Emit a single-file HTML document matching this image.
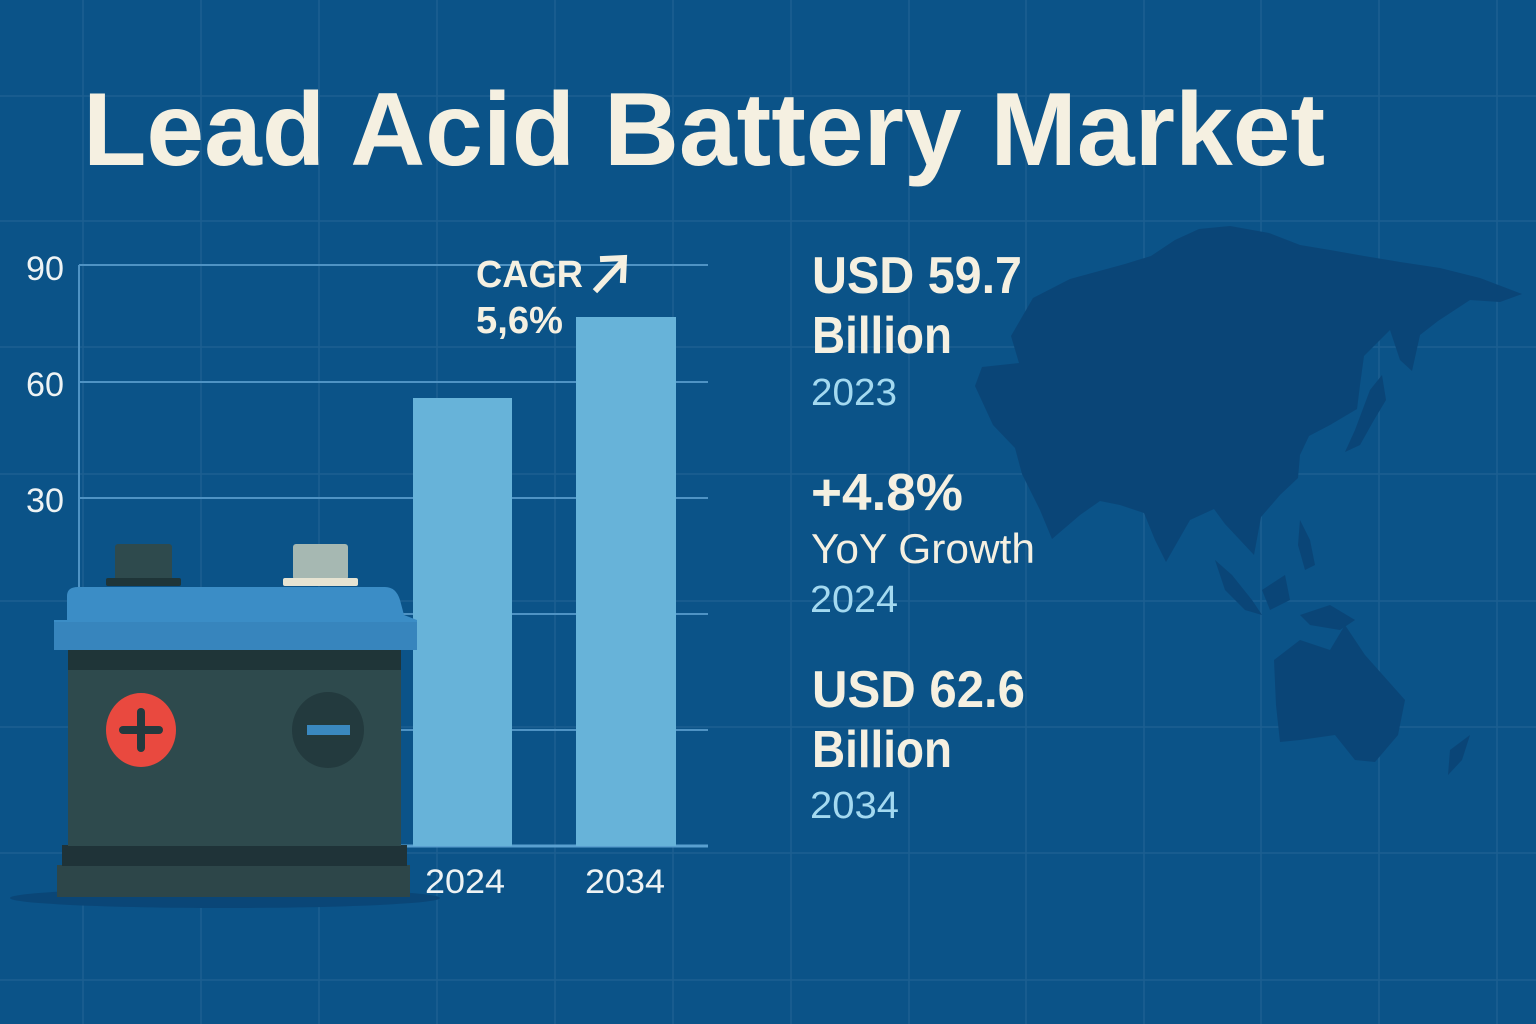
<!DOCTYPE html>
<html><head><meta charset="utf-8"><style>
html,body{margin:0;padding:0;background:#0b5388;}
svg{display:block;}
</style></head><body>
<svg width="1536" height="1024" viewBox="0 0 1536 1024" xmlns="http://www.w3.org/2000/svg">
<rect width="1536" height="1024" fill="#0b5388"/>
<g stroke="#2a6a9a" stroke-width="1.5" opacity="0.55">
<line x1="0" y1="96" x2="1536" y2="96"/><line x1="0" y1="221" x2="1536" y2="221"/>
<line x1="0" y1="347" x2="1536" y2="347"/><line x1="0" y1="474" x2="1536" y2="474"/>
<line x1="0" y1="601" x2="1536" y2="601"/><line x1="0" y1="727" x2="1536" y2="727"/>
<line x1="0" y1="853" x2="1536" y2="853"/><line x1="0" y1="980" x2="1536" y2="980"/>
<line x1="83" y1="0" x2="83" y2="1024"/><line x1="201" y1="0" x2="201" y2="1024"/>
<line x1="319" y1="0" x2="319" y2="1024"/><line x1="437" y1="0" x2="437" y2="1024"/>
<line x1="555" y1="0" x2="555" y2="1024"/><line x1="673" y1="0" x2="673" y2="1024"/>
<line x1="791" y1="0" x2="791" y2="1024"/><line x1="909" y1="0" x2="909" y2="1024"/>
<line x1="1026" y1="0" x2="1026" y2="1024"/><line x1="1144" y1="0" x2="1144" y2="1024"/>
<line x1="1261" y1="0" x2="1261" y2="1024"/><line x1="1379" y1="0" x2="1379" y2="1024"/>
<line x1="1497" y1="0" x2="1497" y2="1024"/>
</g>
<!-- map -->
<g fill="#0a4577">
<path d="M1011,336 L1033,298 L1070,279 L1125,264 L1151,256 L1175,240 L1199,229 L1230,226 L1269,233 L1300,245 L1330,250 L1364,256 L1400,262 L1440,268 L1480,278 L1522,294 L1500,302 L1470,300 L1438,321 L1420,335 L1412,371 L1400,360 L1390,330 L1364,356 L1360,385 L1357,409 L1330,425 L1309,436 L1300,455 L1298,478 L1280,495 L1261,517 L1254,555 L1240,540 L1225,524 L1214,509 L1190,520 L1166,562 L1155,540 L1144,513 L1120,505 L1100,501 L1080,515 L1052,539 L1040,510 L1022,474 L1015,448 L993,425 L975,386 L982,367 L1019,363 Z"/>
<path d="M1370,390 L1382,375 L1386,400 L1374,420 L1360,445 L1345,452 L1355,430 Z"/>
<path d="M1215,560 L1232,575 L1252,600 L1262,615 L1245,610 L1225,590 Z"/>
<path d="M1262,590 L1285,575 L1290,600 L1270,610 Z"/>
<path d="M1300,615 L1330,605 L1355,620 L1340,630 L1310,625 Z"/>
<path d="M1300,520 L1310,540 L1315,565 L1305,570 L1298,545 Z"/>
<path d="M1274,660 L1300,640 L1330,650 L1345,625 L1365,655 L1405,700 L1398,735 L1375,762 L1355,760 L1335,735 L1300,740 L1280,742 L1276,705 Z"/>
<path d="M1450,750 L1470,735 L1462,760 L1448,775 Z"/>
</g>
<!-- title -->
<text x="83" y="165" font-family="Liberation Sans, sans-serif" font-weight="bold" font-size="104" fill="#f5f0e1" textLength="1242" lengthAdjust="spacingAndGlyphs">Lead Acid Battery Market</text>
<!-- axes -->
<g stroke="#4f93c4" stroke-width="2">
<line x1="79" y1="265" x2="708" y2="265"/>
<line x1="79" y1="382" x2="708" y2="382"/>
<line x1="79" y1="498" x2="708" y2="498"/>
<line x1="79" y1="614" x2="708" y2="614"/>
<line x1="79" y1="730" x2="708" y2="730"/>
<line x1="79" y1="265" x2="79" y2="846"/>
</g>
<line x1="79" y1="846" x2="708" y2="846" stroke="#5aa0d0" stroke-width="3"/>
<g font-family="Liberation Sans, sans-serif" font-size="34" fill="#eef3f4">
<text x="26" y="280" textLength="38" lengthAdjust="spacingAndGlyphs">90</text>
<text x="26" y="396" textLength="38" lengthAdjust="spacingAndGlyphs">60</text>
<text x="26" y="512" textLength="38" lengthAdjust="spacingAndGlyphs">30</text>
<text x="425" y="893" textLength="80" lengthAdjust="spacingAndGlyphs">2024</text>
<text x="585" y="893" textLength="80" lengthAdjust="spacingAndGlyphs">2034</text>
</g>
<rect x="413" y="398" width="99" height="448" fill="#67b3d9"/>
<rect x="576" y="317" width="100" height="529" fill="#67b3d9"/>
<g font-family="Liberation Sans, sans-serif" font-weight="bold" fill="#f5f0e1">
<text x="476" y="287" font-size="38" textLength="107" lengthAdjust="spacingAndGlyphs">CAGR</text>
<text x="476" y="333" font-size="38" textLength="87" lengthAdjust="spacingAndGlyphs">5,6%</text>
</g>
<path d="M597,289 L622,262 M603,259 L624,258 L623,280" stroke="#f5f0e1" stroke-width="6" fill="none" stroke-linecap="square"/>
<!-- battery -->
<ellipse cx="225" cy="898" rx="215" ry="10" fill="#0a4677"/>
<rect x="57" y="865" width="353" height="32" fill="#2d4649"/>
<rect x="62" y="845" width="345" height="21" fill="#1f3338"/>
<rect x="68" y="650" width="333" height="196" fill="#2e4a4d"/>
<rect x="68" y="650" width="333" height="20" fill="#1f3538"/>
<rect x="115" y="544" width="57" height="38" rx="3" fill="#2e4a4d"/>
<rect x="106" y="578" width="75" height="8" rx="2" fill="#1f3538"/>
<rect x="293" y="544" width="55" height="36" rx="3" fill="#a6b8b2"/>
<rect x="283" y="578" width="75" height="8" rx="2" fill="#e6e3d2"/>
<path d="M67,620 L67,596 Q67,587 78,587 L385,587 Q396,587 400,600 L404,615 L417,620 L417,650 L54,650 L54,620 Z" fill="#3b8dc6"/>
<rect x="54" y="622" width="363" height="28" fill="#3785bd"/>
<ellipse cx="141" cy="730" rx="35" ry="37" fill="#e9493f"/>
<rect x="119" y="726" width="44" height="8" rx="4" fill="#233a3e"/>
<rect x="137" y="708" width="8" height="44" rx="4" fill="#233a3e"/>
<ellipse cx="328" cy="730" rx="36" ry="38" fill="#233a3e"/>
<rect x="307" y="725" width="43" height="10" fill="#3a88bf"/>
<!-- stats -->
<g font-family="Liberation Sans, sans-serif" font-weight="bold" fill="#f5f0e1" font-size="52">
<text x="812" y="293" textLength="210" lengthAdjust="spacingAndGlyphs">USD 59.7</text>
<text x="812" y="353" textLength="140" lengthAdjust="spacingAndGlyphs">Billion</text>
<text x="811" y="510" textLength="152" lengthAdjust="spacingAndGlyphs">+4.8%</text>
<text x="812" y="707" textLength="213" lengthAdjust="spacingAndGlyphs">USD 62.6</text>
<text x="812" y="767" textLength="140" lengthAdjust="spacingAndGlyphs">Billion</text>
</g>
<text x="811" y="563" font-family="Liberation Sans, sans-serif" font-size="42" fill="#f5f0e1" textLength="224" lengthAdjust="spacingAndGlyphs">YoY Growth</text>
<g font-family="Liberation Sans, sans-serif" font-size="38" fill="#a3d9f0">
<text x="811" y="405" textLength="86" lengthAdjust="spacingAndGlyphs">2023</text>
<text x="810" y="612" textLength="88" lengthAdjust="spacingAndGlyphs">2024</text>
<text x="810" y="818" textLength="89" lengthAdjust="spacingAndGlyphs">2034</text>
</g>
</svg>
</body></html>
